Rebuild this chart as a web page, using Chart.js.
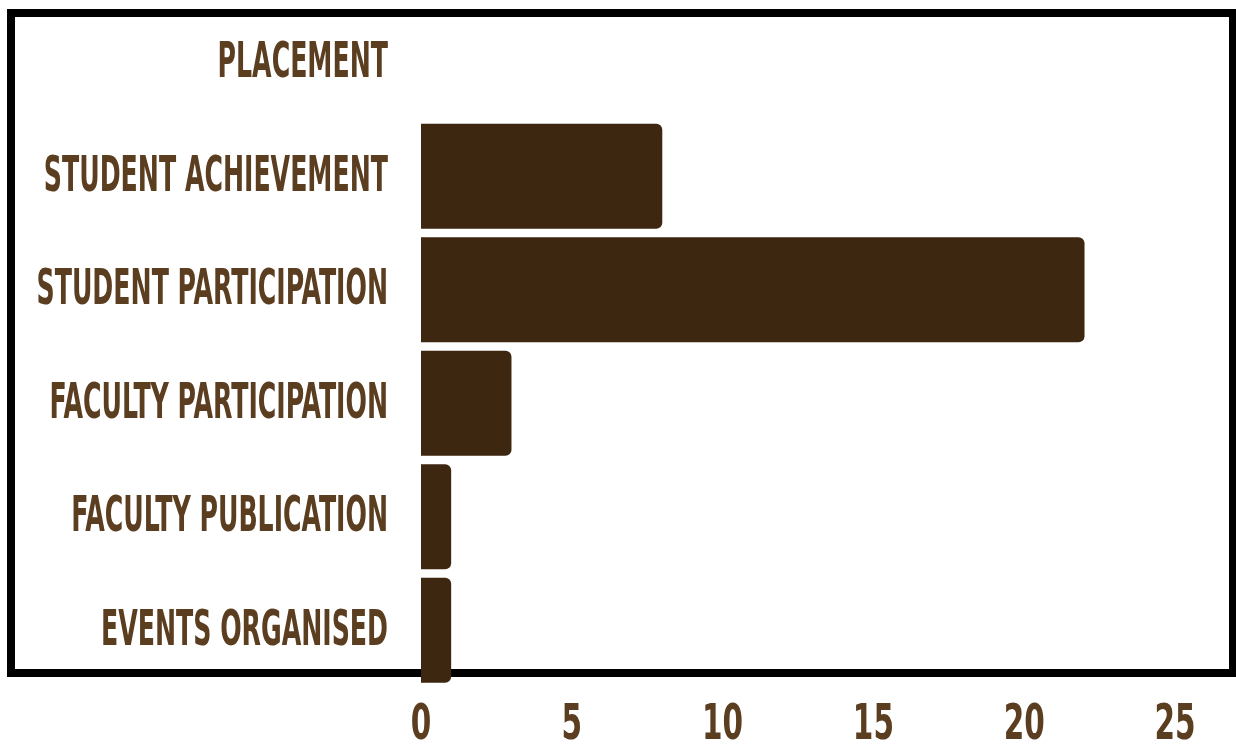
<!DOCTYPE html>
<html>
<head>
<meta charset="utf-8">
<script src="https://cdn.jsdelivr.net/npm/chart.js@4/dist/chart.umd.min.js"></script>
<style>
  html, body { margin: 0; padding: 0; background: #ffffff; }
  #wrap { position: relative; width: 1236px; height: 745px; }
</style>
</head>
<body>
<div id="wrap"><canvas id="chart"></canvas></div>
<script>
// Report categories and counts
const categories = [
  'PLACEMENT',
  'STUDENT ACHIEVEMENT',
  'STUDENT PARTICIPATION',
  'FACULTY PARTICIPATION',
  'FACULTY PUBLICATION',
  'EVENTS ORGANISED'
];
const counts = [0, 8, 22, 3, 1, 1];
const xTicks = [0, 5, 10, 15, 20, 25];

const LABEL_COLOR = '#5b3d20';
const BAR_COLOR = '#3e2711';
const FONT_FAMILY = '"DejaVu Sans Condensed", "DejaVu Sans", sans-serif';
// horizontal compression for the display lettering: category names / axis numbers
const SQUEEZE_NAMES = 0.572;
const SQUEEZE_NUMBERS = 0.67;
const NAME_DROP = 2; // small downward nudge for the category names

// Draws chart text horizontally condensed, anchored at the text's own x
const condensedText = {
  id: 'condensedText',
  beforeInit(chart) {
    const ctx = chart.ctx;
    const fill = ctx.fillText.bind(ctx);
    ctx.fillText = function (text, x, y, maxWidth) {
      const isName = ctx.textAlign === 'right';
      const sx = isName ? SQUEEZE_NAMES : SQUEEZE_NUMBERS;
      ctx.save();
      ctx.translate(x, y + (isName ? NAME_DROP : 0));
      ctx.scale(sx, 1);
      if (maxWidth !== undefined) fill(text, 0, 0, maxWidth / sx);
      else fill(text, 0, 0);
      ctx.restore();
    };
  }
};

// Heavy black frame behind the bars
const frame = {
  id: 'frame',
  beforeDatasetsDraw(chart) {
    const ctx = chart.ctx;
    ctx.save();
    ctx.strokeStyle = '#000000';
    ctx.lineWidth = 8;
    ctx.strokeRect(11, 13, 1222, 660);
    ctx.restore();
  }
};

new Chart(document.getElementById('chart'), {
  type: 'bar',
  data: {
    labels: categories,
    datasets: [{
      data: counts,
      backgroundColor: BAR_COLOR,
      borderWidth: 0,
      borderRadius: 6,
      borderSkipped: 'start',
      barPercentage: 0.927,
      categoryPercentage: 1
    }]
  },
  options: {
    indexAxis: 'y',
    responsive: true,
    maintainAspectRatio: false,
    animation: false,
    layout: { padding: { top: 6, right: 61, left: 0, bottom: 0 } },
    plugins: {
      legend: { display: false },
      tooltip: { enabled: false }
    },
    scales: {
      x: {
        min: 0,
        max: 25,
        afterBuildTicks(scale) {
          scale.ticks = xTicks.map(v => ({ value: v }));
        },
        afterFit(scale) {
          scale.height = 58;
          scale.paddingLeft = 0;
          scale.paddingRight = 0;
        },
        grid: { display: false, drawTicks: false },
        border: { display: false },
        ticks: {
          color: LABEL_COLOR,
          font: { family: FONT_FAMILY, size: 49, weight: 'bold' },
          padding: 10,
          maxRotation: 0
        }
      },
      y: {
        afterFit(scale) {
          scale.width = 421;
          scale.paddingTop = 0;
          scale.paddingBottom = 0;
        },
        grid: { display: false, drawTicks: false },
        border: { display: false },
        ticks: {
          color: LABEL_COLOR,
          font: { family: FONT_FAMILY, size: 49, weight: 'bold' },
          padding: 33
        }
      }
    }
  },
  plugins: [condensedText, frame]
});
</script>
</body>
</html>
